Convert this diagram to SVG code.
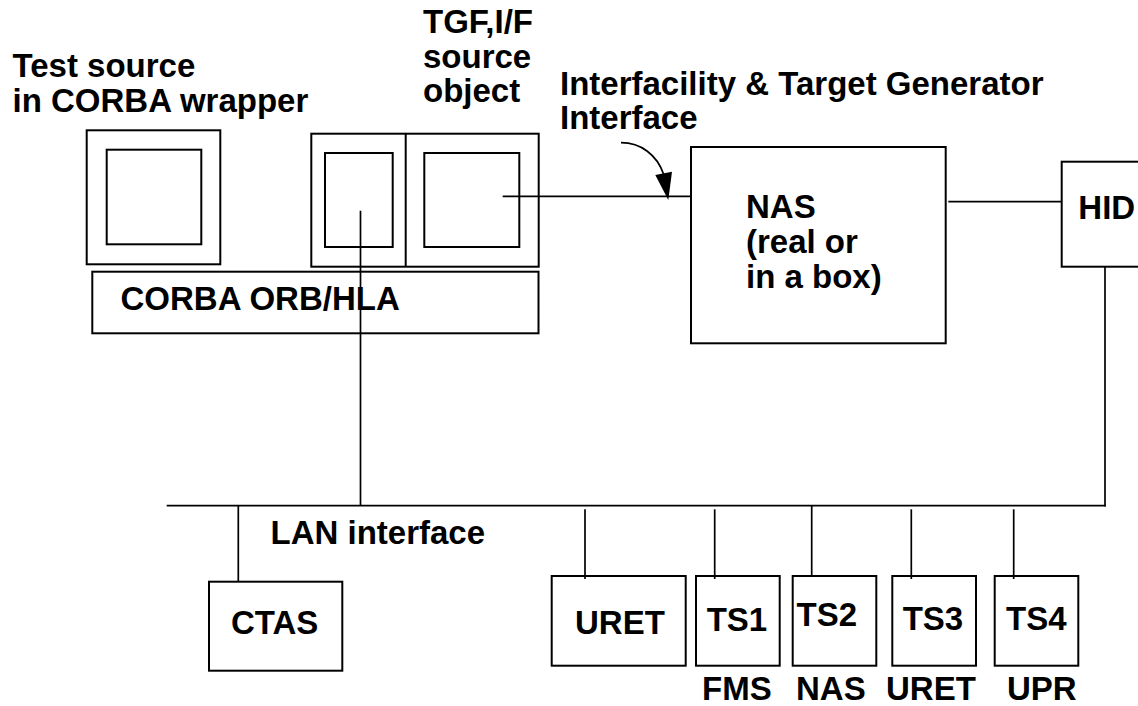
<svg xmlns="http://www.w3.org/2000/svg" width="1138" height="706" viewBox="0 0 1138 706">
  <style>
    .box { fill: none; stroke: #000; stroke-width: 2; }
    .wire { fill: none; stroke: #000; stroke-width: 1.7; }
    text { font-family: "Liberation Sans", Arial, sans-serif; font-weight: bold; font-size: 33px; fill: #000; }
  </style>
  <rect width="1138" height="706" fill="#fff"/>

  <!-- free-standing labels -->
  <g id="labels">
    <text x="12.5" y="77">Test source</text>
    <text x="12.5" y="111.5">in CORBA wrapper</text>
    <text x="423" y="33">TGF,I/F</text>
    <text x="423" y="67.5">source</text>
    <text x="423" y="101.5">object</text>
    <text x="560" y="94.5">Interfacility &amp; Target Generator</text>
    <text x="560" y="128.5">Interface</text>
    <text x="270.5" y="544">LAN interface</text>
    <text x="702" y="700">FMS</text>
    <text x="796" y="700">NAS</text>
    <text x="886" y="700">URET</text>
    <text x="1007" y="700">UPR</text>
  </g>

  <!-- connectors -->
  <g id="connectors">
    <line class="wire" x1="502.7" y1="196.3" x2="690" y2="196.3"/>
    <line class="wire" x1="948.3" y1="201.7" x2="1061.7" y2="201.7"/>
    <line class="wire" x1="360.5" y1="210.7" x2="360.5" y2="505.7"/>
    <line class="wire" x1="1105" y1="266.7" x2="1105" y2="506.5"/>
    <line class="wire" x1="166.7" y1="505.7" x2="1105.8" y2="505.7"/>
    <line class="wire" x1="238.3" y1="505.7" x2="238.3" y2="581.7"/>
    <line class="wire" x1="585" y1="509.3" x2="585" y2="579"/>
    <line class="wire" x1="714.7" y1="509.3" x2="714.7" y2="579"/>
    <line class="wire" x1="811.7" y1="505.7" x2="811.7" y2="576"/>
    <line class="wire" x1="911.3" y1="509.3" x2="911.3" y2="579"/>
    <line class="wire" x1="1013.7" y1="509.3" x2="1013.7" y2="579"/>
    <!-- curved pointer to the interface line -->
    <path class="wire" d="M621,142.7 C641,142.7 657,155 663.5,174"/>
    <polygon points="655.3,175 672,171.7 668.3,200" fill="#000"/>
  </g>

  <g id="test-source">
    <rect class="box" x="86.7" y="130.3" width="133.6" height="134"/>
    <rect class="box" x="106.7" y="149.7" width="94.6" height="94.6"/>
  </g>

  <g id="tgf-source">
    <rect class="box" x="311.3" y="133.7" width="227.4" height="133"/>
    <line class="box" x1="405.7" y1="133.7" x2="405.7" y2="266.7"/>
    <rect class="box" x="325" y="153" width="67.7" height="94"/>
    <rect class="box" x="424.3" y="153" width="95" height="94"/>
  </g>

  <g id="corba-orb">
    <rect class="box" x="92.3" y="271.7" width="446.2" height="61.6"/>
    <text x="120.5" y="310">CORBA ORB/HLA</text>
  </g>

  <g id="nas">
    <rect class="box" x="691" y="147" width="254.7" height="196.3"/>
    <text x="746" y="218">NAS</text>
    <text x="746" y="253">(real or</text>
    <text x="746" y="288">in a box)</text>
  </g>

  <g id="hid">
    <rect class="box" x="1061.7" y="161.7" width="90" height="105"/>
    <text x="1078.3" y="219">HID</text>
  </g>

  <g id="ctas">
    <rect class="box" x="209" y="581.7" width="133.3" height="89"/>
    <text x="231" y="634">CTAS</text>
  </g>

  <g id="uret">
    <rect class="box" x="551.7" y="576" width="134" height="89.7"/>
    <text x="575" y="634">URET</text>
  </g>

  <g id="ts1">
    <rect class="box" x="696" y="576" width="83.7" height="89.7"/>
    <text x="706.7" y="631">TS1</text>
  </g>

  <g id="ts2">
    <rect class="box" x="792.7" y="576" width="83.6" height="89.7"/>
    <text x="796.5" y="626">TS2</text>
  </g>

  <g id="ts3">
    <rect class="box" x="892.3" y="576" width="83.7" height="89.7"/>
    <text x="902.7" y="630">TS3</text>
  </g>

  <g id="ts4">
    <rect class="box" x="994.7" y="576" width="83.6" height="89.7"/>
    <text x="1006" y="630">TS4</text>
  </g>
</svg>
